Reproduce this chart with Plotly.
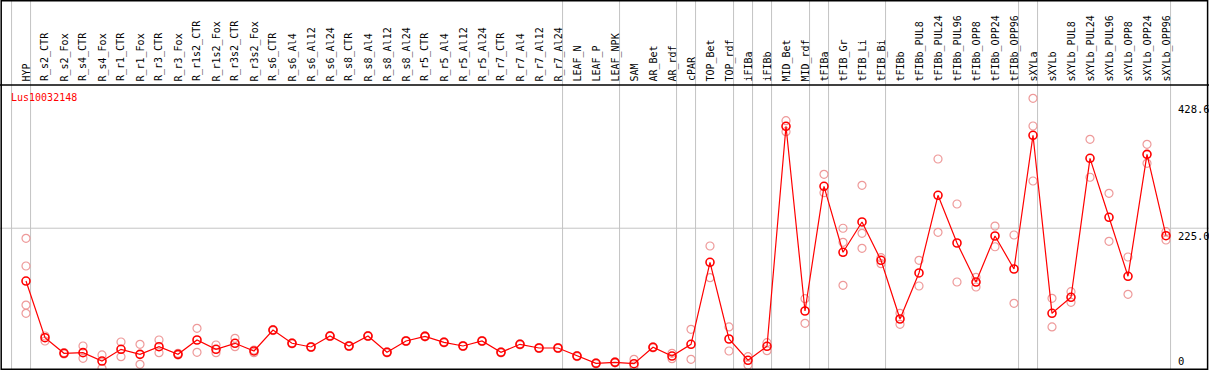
import plotly.graph_objects as go

categories = ["HYP", "R_s2_CTR", "R_s2_Fox", "R_s4_CTR", "R_s4_Fox", "R_r1_CTR", "R_r1_Fox",
              "R_r3_CTR", "R_r3_Fox", "R_r1s2_CTR", "R_r1s2_Fox", "R_r3s2_CTR", "R_r3s2_Fox",
              "R_s6_CTR", "R_s6_Al4", "R_s6_Al12", "R_s6_Al24", "R_s8_CTR", "R_s8_Al4",
              "R_s8_Al12", "R_s8_Al24", "R_r5_CTR", "R_r5_Al4", "R_r5_Al12", "R_r5_Al24",
              "R_r7_CTR", "R_r7_Al4", "R_r7_Al12", "R_r7_Al24", "LEAF_N", "LEAF_P", "LEAF_NPK",
              "SAM", "AR_Bet", "AR_rdf", "cPAR", "TOP_Bet", "TOP_rdf", "iFIBa", "iFIBb",
              "MID_Bet", "MID_rdf", "tFIBa", "tFIB_Gr", "tFIB_Li", "tFIB_Bi", "tFIBb",
              "tFIBb_PUL8", "tFIBb_PUL24", "tFIBb_PUL96", "tFIBb_OPP8", "tFIBb_OPP24",
              "tFIBb_OPP96", "sXYLa", "sXYLb", "sXYLb_PUL8", "sXYLb_PUL24", "sXYLb_PUL96",
              "sXYLb_OPP8", "sXYLb_OPP24", "sXYLb_OPP96"]

# number of consecutive categories in each tissue group (separated by grey lines)
group_sizes = [1, 28, 3, 3, 1, 2, 1, 1, 2, 1, 3, 7, 1, 7]

means = [140.3, 49.4, 24.4, 25.4, 12.0, 30.8, 22.7, 35.0, 22.7, 45.7, 30.8, 40.4, 28.1,
         61.7, 40.4, 34.5, 52.1, 36.1, 52.1, 26.0, 44.1, 51.6, 42.0, 36.1, 44.1, 26.0,
         38.8, 32.9, 32.9, 20.0, 8.3, 9.9, 7.7, 34.0, 20.0, 38.8, 170.3, 47.3, 13.2, 35.6,
         388.5, 92.2, 292.2, 186.4, 235.0, 173.5, 79.4, 153.2, 277.8, 201.3, 138.7, 212.5,
         159.6, 374.0, 88.5, 114.2, 337.1, 242.5, 147.9, 343.5, 213.0]

replicates = [
    [208.8, 164.4, 101.8, 88.5], [52.1, 44.1], [25.7, 23.3], [36.1, 16.3], [21.7, 0.3],
    [42.5, 19.0], [38.8, 6.7], [45.7, 25.4], [24.4, 21.7], [64.5, 26.0], [37.7, 25.4],
    [48.4, 35.0], [29.7, 25.4], [62.5, 60.9], [41.2, 39.6], [35.3, 33.7], [52.9, 51.3],
    [36.9, 35.3], [52.9, 51.3], [26.8, 25.2], [44.9, 43.3], [52.4, 50.8], [42.8, 41.2],
    [36.9, 35.3], [44.9, 43.3], [26.8, 25.2], [39.6, 38.0], [33.7, 32.1], [33.7, 32.1],
    [20.8, 19.2], [9.1, 7.5], [10.7, 9.1], [14.7, 4.0], [34.8, 33.2], [24.4, 15.7],
    [62.9, 14.7], [196.5, 145.7], [66.6, 28.1], [19.0, 5.6], [41.4, 28.6], [397.4, 379.8],
    [112.0, 72.5], [311.5, 282.0], [224.9, 202.4, 133.4], [293.8, 216.8, 192.8],
    [177.7, 168.1], [88.5, 70.9], [173.5, 132.3], [336.0, 218.4], [263.8, 138.7],
    [146.3, 130.7], [228.5, 195.3], [214.1, 104.6], [433.4, 388.9, 300.7], [112.6, 66.6],
    [123.2, 106.2], [367.6, 306.7], [281.0, 204.0], [178.8, 119.0], [359.6, 329.1],
    [219.4, 206.1]]

y_ticks = [0, 225.0, 428.6]
y_tick_text = ["0", "225.0", "428.6"]
gene_name = "Lus10032148"

W, H = 1209, 370
FONT = "DejaVu Sans Mono"
RED = "#ff0000"
PINK = "#ee9a9a"
GREY = "#c4c4c4"

# pixel geometry
x_first_px, step_px = 26.0, 19.0
y_zero_px, px_per_unit = 368.5, 0.6235
x_range = [-x_first_px / step_px, (W - x_first_px) / step_px]
y_range = [(y_zero_px - H) / px_per_unit, y_zero_px / px_per_unit]
header_px = 85

idx = list(range(len(categories)))

fig = go.Figure()

rx, ry = [], []
for i, reps in enumerate(replicates):
    for r in reps:
        rx.append(i)
        ry.append(r)
fig.add_trace(go.Scatter(x=rx, y=ry, mode="markers",
                         marker=dict(symbol="circle-open", size=8, color=PINK,
                                     line=dict(width=1.2, color=PINK)),
                         hoverinfo="skip", showlegend=False))
fig.add_trace(go.Scatter(x=idx, y=means, mode="lines+markers",
                         line=dict(color=RED, width=1.2),
                         marker=dict(symbol="circle-open", size=8, color=RED,
                                     line=dict(width=1.6, color=RED)),
                         text=categories, showlegend=False))

shapes = []
# group separators
pos = -1
sep_positions = [pos]
for g in group_sizes:
    pos += g
    sep_positions.append(pos)
for s in sep_positions:
    shapes.append(dict(type="line", xref="x", yref="paper", x0=s + 0.24, x1=s + 0.24,
                       y0=0, y1=1, line=dict(color=GREY, width=1), layer="below"))
# horizontal grid at middle tick
shapes.append(dict(type="line", xref="paper", yref="y", x0=0, x1=1, y0=y_ticks[1], y1=y_ticks[1],
                   line=dict(color=GREY, width=1), layer="below"))
# header separator
shapes.append(dict(type="line", xref="paper", yref="paper", x0=0, x1=1,
                   y0=1 - header_px / H, y1=1 - header_px / H, line=dict(color="black", width=1.5)))
# frame
shapes.append(dict(type="rect", xref="paper", yref="paper", x0=1.2 / W, x1=1207.6 / W,
                   y0=0.8 / H, y1=1 - 0.8 / H, line=dict(color="black", width=1.5)))

annotations = []
for i, c in enumerate(categories):
    annotations.append(dict(x=i, y=1 - (header_px - 1.5) / H, xref="x", yref="paper", text=c,
                            textangle=-90, showarrow=False, xanchor="center", yanchor="bottom",
                            font=dict(family=FONT, size=10, color="black")))
annotations.append(dict(x=8.5 / W, y=1 - 97 / H, xref="paper", yref="paper", text=gene_name,
                        showarrow=False, xanchor="left", yanchor="middle",
                        font=dict(family=FONT, size=10, color=RED)))
for v, t in zip(y_ticks, y_tick_text):
    annotations.append(dict(x=1176 / W, y=v, xref="paper", yref="y", text=t, showarrow=False,
                            xanchor="left", yanchor="bottom" if v == 0 else "top",
                            font=dict(family=FONT, size=10.5, color="black")))

fig.update_layout(
    width=W, height=H, margin=dict(l=0, r=0, t=0, b=0, pad=0),
    paper_bgcolor="white", plot_bgcolor="white",
    xaxis=dict(range=x_range, visible=False, fixedrange=True),
    yaxis=dict(range=y_range, visible=False, fixedrange=True),
    shapes=shapes, annotations=annotations, showlegend=False,
)

fig.write_html("out.html", config={"displayModeBar": False},
               post_script="document.body.style.margin='0';")
